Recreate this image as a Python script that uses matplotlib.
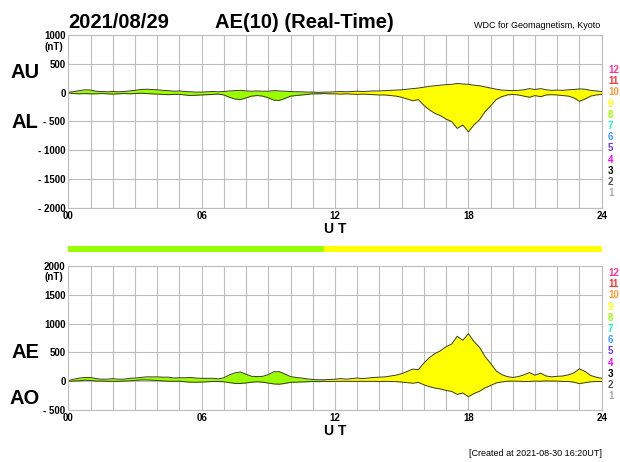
import numpy as np
import matplotlib
matplotlib.use("Agg")
import matplotlib.pyplot as plt

plt.rcParams["font.family"] = ["Liberation Sans", "DejaVu Sans"]

# 15-minute samples, 00 UT .. 24 UT
HOURS = np.arange(97) * 0.25

AU = [5, 20, 35, 50, 45, 25, 20, 15, 20, 15, 20, 30, 40, 55, 60, 55,
      50, 40, 35, 25, 30, 20, 15, 10, 10, 15, 20, 15, 20, 30, 35, 40,
      30, 25, 30, 25, 25, 35, 30, 25, 20, 15, 15, 10, 10, 5, 10, 10,
      15, 20, 15, 20, 25, 20, 25, 30, 30, 35, 40, 45, 50, 60, 70, 80,
      95, 110, 120, 130, 140, 145, 160, 150, 145, 130, 120, 100, 80, 60, 45, 40,
      35, 40, 50, 70, 55, 70, 50, 40, 45, 40, 50, 55, 65, 60, 40, 30,
      20]

AL = [-5, -15, -20, -15, -20, -20, -15, -20, -25, -20, -15, -20, -15, -10, -15, -20,
      -25, -30, -35, -30, -30, -40, -50, -45, -40, -35, -30, -25, -40, -80, -110, -120,
      -90, -60, -50, -60, -90, -130, -135, -100, -60, -50, -40, -30, -20, -20, -15, -20,
      -20, -25, -20, -25, -30, -25, -30, -35, -40, -40, -50, -60, -80, -110, -140, -120,
      -220, -300, -360, -400, -460, -500, -620, -560, -680, -560, -470, -330, -230, -120, -70, -40,
      -30, -40, -60, -80, -50, -70, -40, -35, -40, -50, -60, -90, -150, -110, -60, -40,
      -30]

# number of contributing stations per sample
STATIONS = [8] * 46 + [9] * 51

STATION_COLORS = {
    12: "#ff3399", 11: "#ff3333", 10: "#ff9933", 9: "#ffff00",
    8: "#99ff00", 7: "#00ffcc", 6: "#3399ff", 5: "#6633ff",
    4: "#ff00ff", 3: "#000000", 2: "#555555", 1: "#aaaaaa",
}

au = np.array(AU, dtype=float)
al = np.array(AL, dtype=float)
ae = au - al
ao = (au + al) / 2

GRID = "#bdbdbd"
EDGE = "#3a3a1a"


def style_axis(ax, lo, hi, labels):
    ax.set_xlim(0, 24)
    ax.set_ylim(lo, hi)
    ax.set_xticks(np.arange(0, 25, 1), minor=True)
    ax.set_xticks([0, 6, 12, 18, 24])
    ax.set_xticklabels(["00", "06", "12", "18", "24"], fontsize=7,
                       fontweight="bold")
    ticks = np.arange(lo, hi + 1, 500)
    ax.set_yticks(ticks)
    ax.set_yticklabels(labels, fontsize=7, fontweight="bold")
    ax.grid(True, which="both", color=GRID, lw=0.8)
    ax.tick_params(which="both", length=0, pad=2)
    for s in ax.spines.values():
        s.set_color(GRID)
    ax.set_axisbelow(True)


def fill_runs(ax, lower, upper):
    i = 0
    n = len(HOURS) - 1
    while i < n:
        j = i
        while j + 1 < n and STATIONS[j + 1] == STATIONS[i]:
            j += 1
        sl = slice(i, j + 2)
        ax.fill_between(HOURS[sl], lower[sl], upper[sl],
                        color=STATION_COLORS[STATIONS[i]], lw=0)
        i = j + 1
    ax.plot(HOURS, upper, color=EDGE, lw=0.7)
    ax.plot(HOURS, lower, color=EDGE, lw=0.7)


fig = plt.figure(figsize=(6.2, 4.62), dpi=100)
L, W = 68.3 / 620, 533.4 / 620

ax1 = fig.add_axes([L, (462 - 208) / 462, W, 173 / 462])
fill_runs(ax1, al, au)
style_axis(ax1, -2000, 1000,
           ["- 2000", "- 1500", "- 1000", "- 500", "0", "500", "1000"])
ax1.set_xlabel("U T", fontsize=10, fontweight="bold", labelpad=1)

axb = fig.add_axes([L, (462 - 252) / 462, W, 6.5 / 462])
axb.bar(HOURS[:-1], 1, width=0.25, align="edge",
        color=[STATION_COLORS[s] for s in STATIONS[:-1]], lw=0)
axb.set_xlim(0, 24)
axb.set_ylim(0, 1)
axb.axis("off")

ax2 = fig.add_axes([L, (462 - 410) / 462, W, 144 / 462])
fill_runs(ax2, ao, ae)
style_axis(ax2, -500, 2000,
           ["- 500", "0", "500", "1000", "1500", "2000"])
ax2.set_xlabel("U T", fontsize=10, fontweight="bold", labelpad=1)

# titles and side labels
fig.text(68 / 620, 1 - 22 / 462, "2021/08/29", fontsize=14.5,
         fontweight="bold", va="center")
fig.text(215 / 620, 1 - 22 / 462, "AE(10) (Real-Time)", fontsize=14.5,
         fontweight="bold", va="center")
fig.text(600 / 620, 1 - 25 / 462, "WDC for Geomagnetism, Kyoto",
         fontsize=6.5, ha="right", va="center")
for txt, y in [("AU", 72), ("AL", 122), ("AE", 352), ("AO", 398)]:
    fig.text(25 / 620, 1 - y / 462, txt, fontsize=14.5, fontweight="bold",
             ha="center", va="center")
for y in [47, 277]:
    fig.text(63 / 620, 1 - y / 462, "(nT)", fontsize=7, fontweight="bold",
             ha="right", va="center")

# station count legend
for top in [70, 273]:
    for k, n in enumerate(range(12, 0, -1)):
        fig.text(608 / 620, 1 - (top + k * 11.2) / 462, str(n), fontsize=7,
                 color=STATION_COLORS[n], fontweight="bold", va="center")

fig.text(602 / 620, 1 - 453 / 462, "[Created at 2021-08-30 16:20UT]",
         fontsize=6.5, ha="right", va="center")

fig.savefig("out.png", dpi=100)
